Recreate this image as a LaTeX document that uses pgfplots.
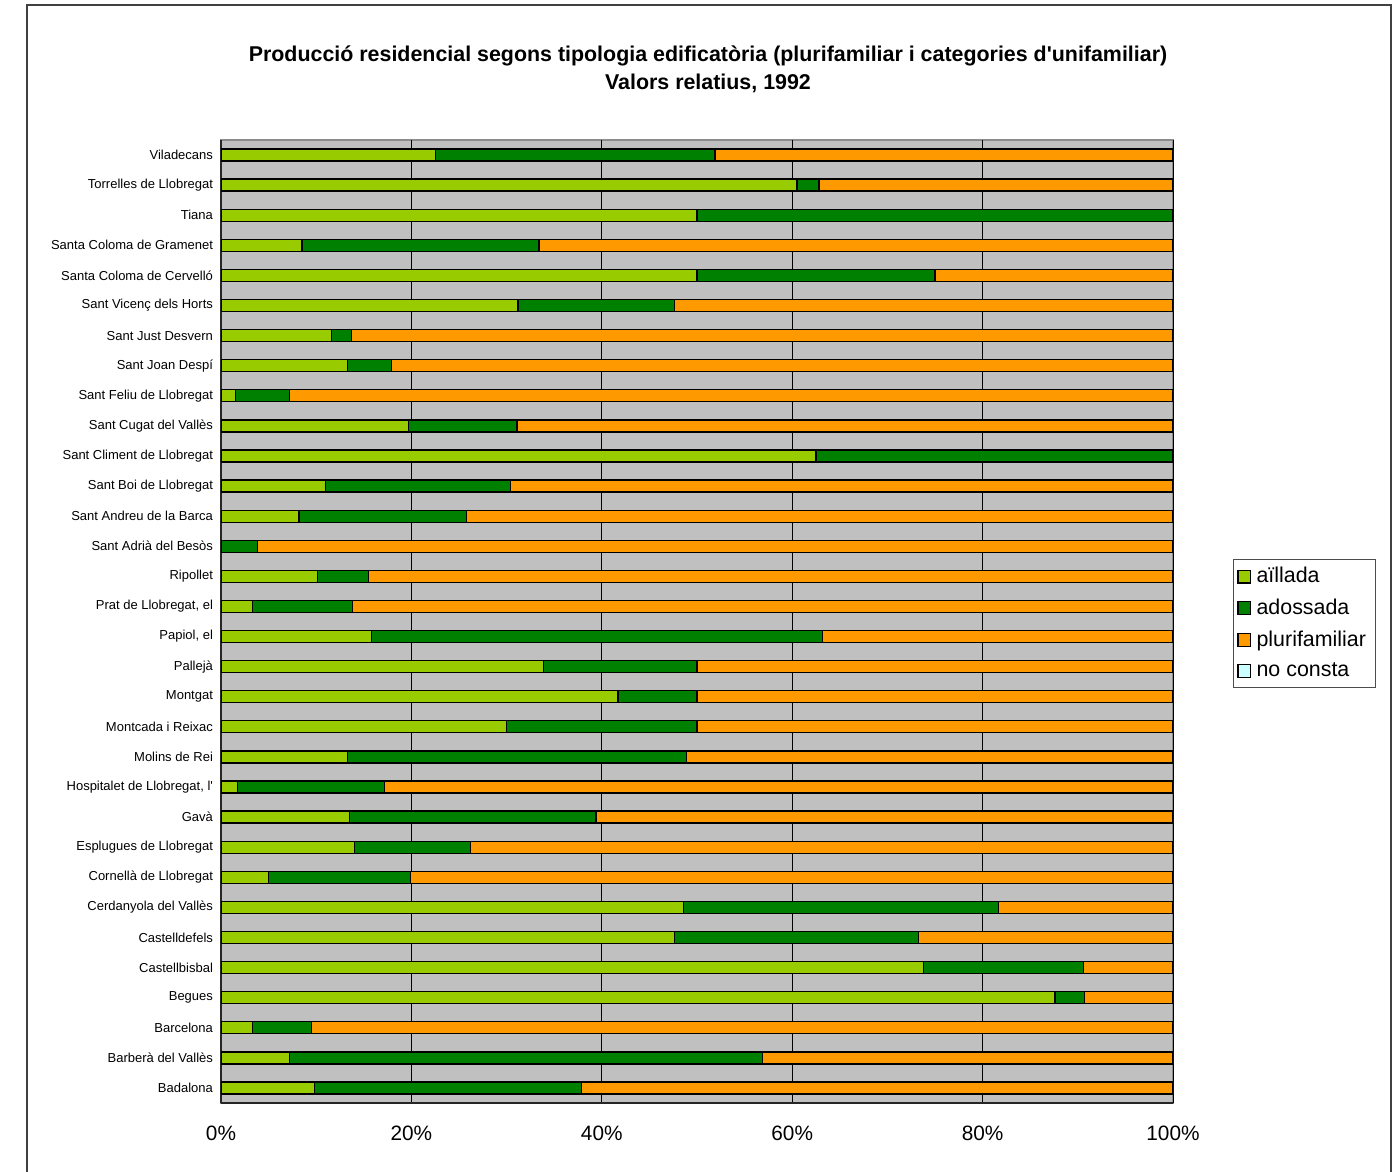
\documentclass[border=0pt]{standalone}
\usepackage{pgfplots}
\pgfplotsset{compat=1.18}
\usepackage{pgfplotstable}
\usepackage{fontspec}
\setmainfont{Liberation Sans}

\definecolor{aillada}{HTML}{99CC00}
\definecolor{adossada}{HTML}{008000}
\definecolor{pluri}{HTML}{FF9900}
\definecolor{noconsta}{HTML}{CCFFFF}
\definecolor{fons}{HTML}{C0C0C0}

\pgfplotsset{legsq/.style={legend image code/.code={\draw[##1,draw=black,line width=0.6pt] (0pt,-3.2pt) rectangle (6.4pt,3.2pt);}}}

% percentatges: aillada; adossada; plurifamiliar
\pgfplotstableread[col sep=semicolon]{
idx;name;a;b;c
0;Badalona;9.8;28.1;62.1
1;Barberà del Vallès;7.2;49.7;43.1
2;Barcelona;3.3;6.2;90.5
3;Begues;87.6;3.1;9.3
4;Castellbisbal;73.8;16.8;9.4
5;Castelldefels;47.6;25.7;26.7
6;Cerdanyola del Vallès;48.6;33.1;18.3
7;Cornellà de Llobregat;5.0;14.9;80.1
8;Esplugues de Llobregat;14.0;12.2;73.8
9;Gavà;13.5;25.9;60.6
10;Hospitalet de Llobregat, l\textquotesingle;1.7;15.5;82.8
11;Molins de Rei;13.3;35.6;51.1
12;Montcada i Reixac;30.0;20.0;50.0
13;Montgat;41.7;8.3;50.0
14;Pallejà;33.9;16.1;50.0
15;Papiol, el;15.8;47.4;36.8
16;Prat de Llobregat, el;3.3;10.5;86.2
17;Ripollet;10.1;5.4;84.5
18;Sant Adrià del Besòs;0;3.8;96.2
19;Sant Andreu de la Barca;8.2;17.6;74.2
20;Sant Boi de Llobregat;11.0;19.4;69.6
21;Sant Climent de Llobregat;62.5;37.5;0
22;Sant Cugat del Vallès;19.7;11.4;68.9
23;Sant Feliu de Llobregat;1.5;5.7;92.8
24;Sant Joan Despí;13.3;4.6;82.1
25;Sant Just Desvern;11.6;2.1;86.3
26;Sant Vicenç dels Horts;31.2;16.4;52.4
27;Santa Coloma de Cervelló;50.0;25.0;25.0
28;Santa Coloma de Gramenet;8.5;24.9;66.6
29;Tiana;50.0;50.0;0
30;Torrelles de Llobregat;60.5;2.3;37.2
31;Viladecans;22.5;29.4;48.1
}\data

\begin{document}
\begin{tikzpicture}
\useasboundingbox (0,0) rectangle (699.5pt,-586pt);
\draw[line width=1pt, black!75] (13.5pt,-600pt) -- (13.5pt,-2.5pt) -- (695.5pt,-2.5pt) -- (695.5pt,-600pt);
\node[font=\bfseries\fontsize{10.7}{14}\selectfont, align=center] at (354pt,-34.5pt)
  {Producció residencial segons tipologia edificatòria (plurifamiliar i categories d\textquotesingle unifamiliar)\\Valors relatius, 1992};
\begin{axis}[
  at={(110.5pt,-551.5pt)}, anchor=south west,
  scale only axis, width=476pt, height=481.5pt,
  xbar stacked, bar width=6pt,
  xmin=0, xmax=100, ymin=-0.5, ymax=31.5,
  axis background/.style={fill=fons, draw=black!45, line width=0.6pt},
  axis x line*=bottom, axis y line*=left,
  axis line style={-, black!85, line width=0.7pt},
  xtick={0,20,40,60,80,100},
  xticklabels={0\%,20\%,40\%,60\%,80\%,100\%},
  xmajorgrids, ymajorgrids=false,
  major grid style={black, line width=0.5pt},
  ytick={0,...,31},
  yticklabels from table={\data}{name},
  tick align=outside,
  major y tick style={draw=none},
  major x tick style={draw=none},
  major tick length=0pt,
  y tick label style={font=\fontsize{6.5}{8}\selectfont, xshift=-0.5pt},
  x tick label style={font=\fontsize{10.4}{12}\selectfont, yshift=-8pt},
  legend style={at={(1.063,0.565)}, anchor=north west,
    font=\fontsize{10.7}{12}\selectfont, draw=black!70, fill=white,
    inner xsep=2pt, inner ysep=3pt, row sep=4.6pt,
    nodes={inner ysep=1pt, inner xsep=2.6pt, anchor=west}},
  legend cell align=left,
]
\addplot[legsq, fill=aillada, draw=black, line width=0.65pt] table[x=a, y=idx] {\data};
\addlegendentry{aïllada}
\addplot[legsq, fill=adossada, draw=black, line width=0.65pt] table[x=b, y=idx] {\data};
\addlegendentry{adossada}
\addplot[legsq, fill=pluri, draw=black, line width=0.65pt] table[x=c, y=idx] {\data};
\addlegendentry{plurifamiliar}
\addlegendimage{legsq, fill=noconsta}
\addlegendentry{no consta}
% marques de separacio a l'eix vertical
\pgfplotsinvokeforeach{-0.5,0.5,...,31.5}{
  \draw[black!85, line width=0.6pt] (axis cs:0,#1) -- ++(-2pt,0pt);
}
\end{axis}
\end{tikzpicture}
\end{document}
